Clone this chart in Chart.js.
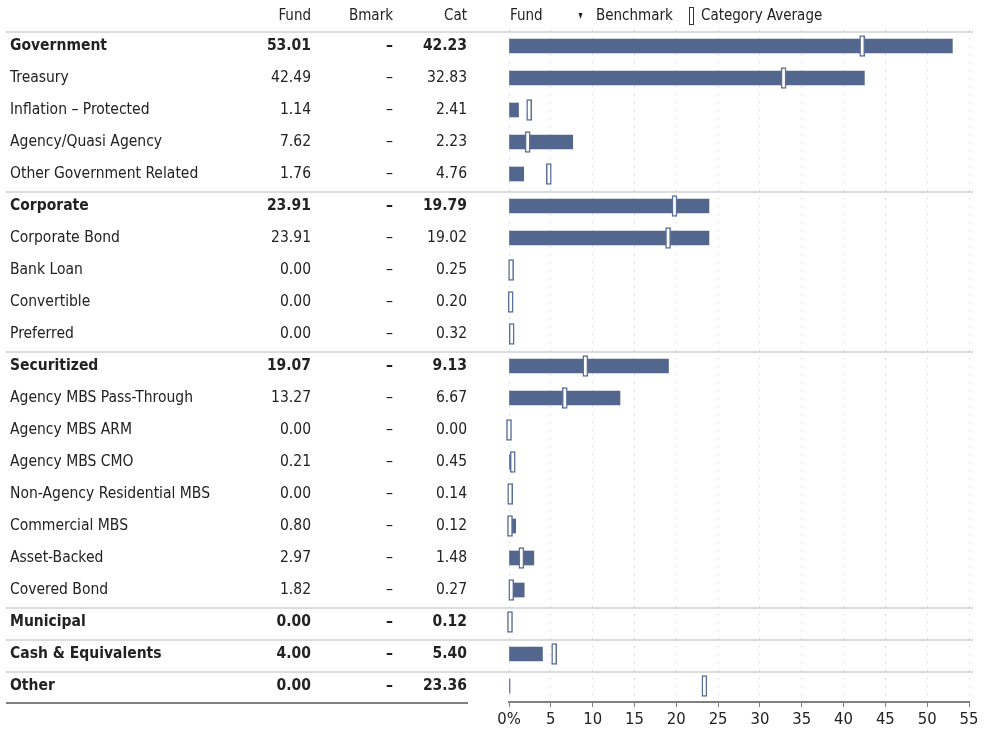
<!DOCTYPE html>
<html>
<head>
<meta charset="utf-8">
<title>Sector breakdown</title>
<script src="https://cdn.jsdelivr.net/npm/chart.js@4.4.1/dist/chart.umd.min.js"></script>
<style>
    html, body { margin: 0; padding: 0; background: #fff; }
    #wrap { width: 984px; height: 735px; }
</style>
</head>
<body>
<div id="wrap"><canvas id="sectorChart" width="984" height="735"></canvas></div>
<script>
// Sector rows, top to bottom
const sectors = [
    'Government', 'Treasury', 'Inflation – Protected', 'Agency/Quasi Agency', 'Other Government Related',
    'Corporate', 'Corporate Bond', 'Bank Loan', 'Convertible', 'Preferred',
    'Securitized', 'Agency MBS Pass-Through', 'Agency MBS ARM', 'Agency MBS CMO',
    'Non-Agency Residential MBS', 'Commercial MBS', 'Asset-Backed', 'Covered Bond',
    'Municipal', 'Cash & Equivalents', 'Other'
];
const groupRows = ['Government', 'Corporate', 'Securitized', 'Municipal', 'Cash & Equivalents', 'Other'];

const fundValues = [
    53.01, 42.49, 1.14, 7.62, 1.76,
    23.91, 23.91, 0.00, 0.00, 0.00,
    19.07, 13.27, 0.00, 0.21, 0.00, 0.80, 2.97, 1.82,
    0.00, 4.00, 0.00
];
const bmarkValues = [
    null, null, null, null, null,
    null, null, null, null, null,
    null, null, null, null, null, null, null, null,
    null, null, null
];
const catValues = [
    42.23, 32.83, 2.41, 2.23, 4.76,
    19.79, 19.02, 0.25, 0.20, 0.32,
    9.13, 6.67, 0.00, 0.45, 0.14, 0.12, 1.48, 0.27,
    0.12, 5.40, 23.36
];
const xTicks = [0, 5, 10, 15, 20, 25, 30, 35, 40, 45, 50, 55];

const FONT = '"Liberation Sans Narrow", "DejaVu Sans Condensed", "Arial Narrow", sans-serif';
const TEXT = '#222';
const BAR = '#53668e';
const MARK = '#5b6f99';
const RULE = '#dcdcdc';

const isGroup = (i) => groupRows.indexOf(sectors[i]) !== -1;
const fmt = (v) => v === null ? '–' : v.toFixed(2);

// half width of the category-average marker, in % units
const markHalf = 0.3;

// table columns, header, legend and separators
const tablePlugin = {
    id: 'sectorTable',
    afterDraw(chart) {
        const ctx = chart.ctx;
        const y = chart.scales.y;
        const area = chart.chartArea;
        const step = (area.bottom - area.top) / sectors.length;

        ctx.save();
        ctx.textBaseline = 'middle';
        ctx.fillStyle = TEXT;

        // header
        ctx.font = '15px ' + FONT;
        ctx.textAlign = 'right';
        ctx.fillText('Fund', 311, 16);
        ctx.fillText('Bmark', 393, 16);
        ctx.fillText('Cat', 467, 16);

        // legend
        ctx.textAlign = 'left';
        ctx.fillText('Fund', 510, 16);
        ctx.beginPath();
        ctx.moveTo(578.5, 13);
        ctx.lineTo(582.5, 13);
        ctx.lineTo(580.5, 19);
        ctx.closePath();
        ctx.fill();
        ctx.fillText('Benchmark', 596, 16);
        ctx.strokeStyle = '#333';
        ctx.lineWidth = 1;
        ctx.strokeRect(689.5, 7.5, 4, 17);
        ctx.fillText('Category Average', 701, 16);

        // value columns
        ctx.textAlign = 'right';
        sectors.forEach(function(name, i) {
            const py = y.getPixelForValue(i);
            ctx.font = (isGroup(i) ? 'bold ' : '') + '15.5px ' + FONT;
            ctx.fillText(fmt(fundValues[i]), 311, py);
            ctx.fillText(fmt(bmarkValues[i]), 393, py);
            ctx.fillText(fmt(catValues[i]), 467, py);
        });

        // separators under the header and between sector groups
        ctx.strokeStyle = RULE;
        ctx.lineWidth = 2;
        const rules = [0];
        sectors.forEach(function(name, i) {
            if (i > 0 && isGroup(i)) rules.push(i);
        });
        rules.forEach(function(i) {
            const ry = Math.round(area.top + 2 + step * i);
            ctx.beginPath();
            ctx.moveTo(6, ry);
            ctx.lineTo(973, ry);
            ctx.stroke();
        });

        // bottom rule under the table
        ctx.strokeStyle = '#808080';
        ctx.beginPath();
        ctx.moveTo(6, area.bottom + 1);
        ctx.lineTo(468, area.bottom + 1);
        ctx.stroke();
        ctx.restore();
    }
};

new Chart(document.getElementById('sectorChart').getContext('2d'), {
    type: 'bar',
    data: {
        labels: sectors,
        datasets: [
            {
                label: 'Category Average',
                data: catValues.map(function(v) { return [v - markHalf, v + markHalf]; }),
                backgroundColor: '#fff',
                borderColor: MARK,
                borderWidth: 1.5,
                borderSkipped: false,
                barThickness: 21,
                grouped: false,
                clip: false,
                order: 1
            },
            {
                label: 'Fund',
                data: fundValues,
                backgroundColor: BAR,
                borderWidth: 0,
                barThickness: 14,
                minBarLength: 1,
                grouped: false,
                order: 2
            }
        ]
    },
    options: {
        indexAxis: 'y',
        responsive: false,
        animation: false,
        layout: { padding: { left: 10, right: 15, top: 30, bottom: 0 } },
        plugins: {
            legend: { display: false },
            tooltip: { enabled: false }
        },
        scales: {
            x: {
                min: 0,
                max: 55,
                afterBuildTicks: function(scale) {
                    scale.ticks = xTicks.map(function(v) { return { value: v }; });
                },
                afterFit: function(scale) { scale.height = 33; },
                grid: {
                    color: '#c8c8c8',
                    lineWidth: 1,
                    tickColor: '#808080',
                    tickLength: 5,
                    tickWidth: 1
                },
                border: { display: true, color: '#808080', width: 2, dash: [1, 7] },
                ticks: {
                    color: TEXT,
                    font: { family: FONT, size: 16.5 },
                    padding: 3,
                    maxRotation: 0,
                    callback: function(v) { return v === 0 ? '0%' : v; }
                }
            },
            y: {
                afterFit: function(scale) { scale.width = 499; },
                grid: { display: false },
                border: { display: false },
                ticks: {
                    crossAlign: 'far',
                    color: TEXT,
                    autoSkip: false,
                    font: function(c) {
                        return { family: FONT, size: 15.5, weight: isGroup(c.index) ? 'bold' : 'normal' };
                    }
                }
            }
        }
    },
    plugins: [tablePlugin]
});
</script>
</body>
</html>
